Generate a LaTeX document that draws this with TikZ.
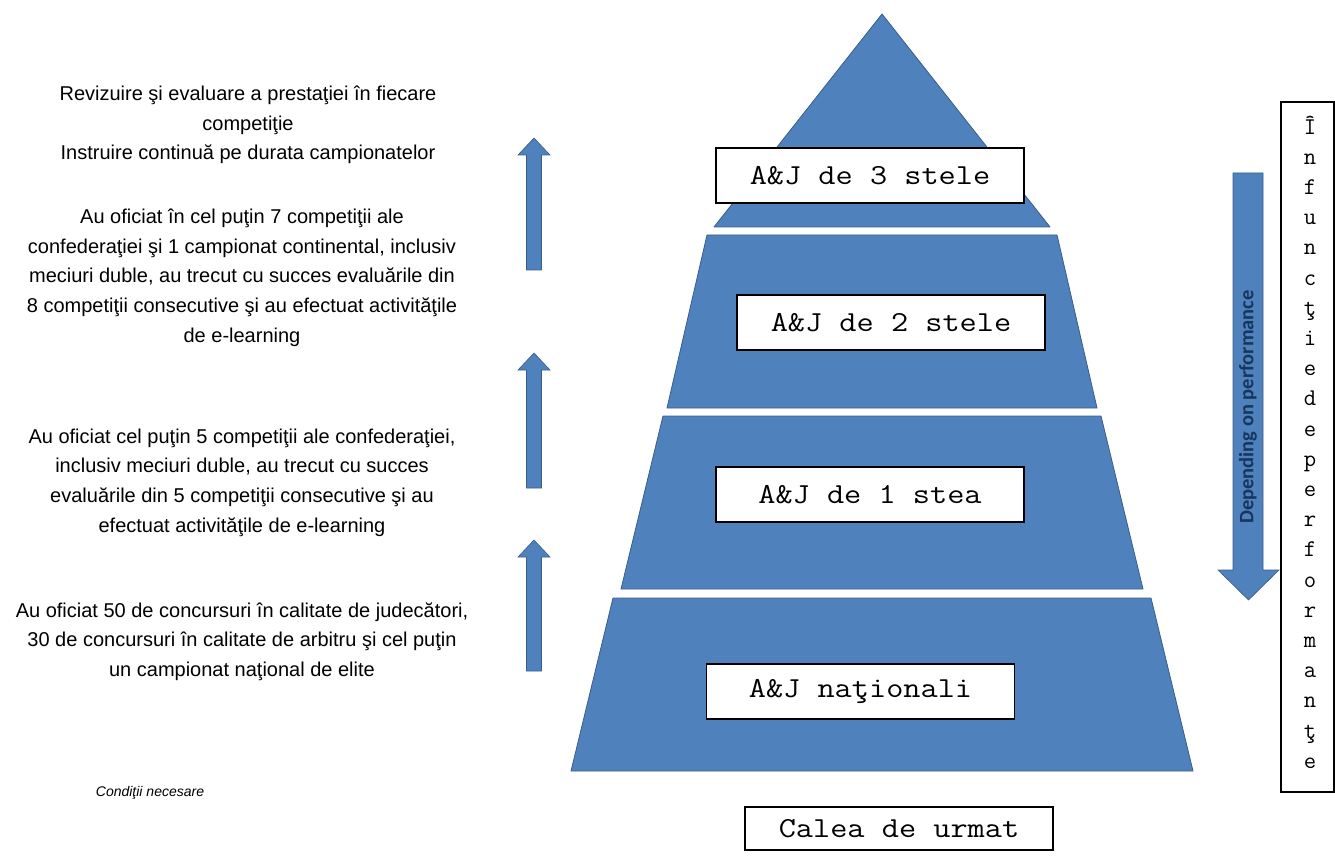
\documentclass[tikz,border=0pt]{standalone}
\usepackage{fontspec}
\setmainfont{Liberation Sans}
\newfontfamily\calibrifont{Carlito}
\definecolor{pyrblue}{RGB}{79,129,189}
\definecolor{pyredge}{RGB}{56,93,138}
\definecolor{depnavy}{RGB}{23,54,93}
\newcommand\widemono[1]{\scalebox{1.15}[1]{#1}}
\begin{document}
\begin{tikzpicture}[x=1pt,y=-1pt,
  tier/.style={fill=pyrblue, draw=pyredge, line width=0.8pt, line join=round},
  blockarrow/.style={fill=pyrblue, draw=pyredge, line width=0.6pt, line join=miter},
  lvlbox/.style={draw=black, line width=1.6pt, fill=white, minimum width=308pt,
    minimum height=55pt, inner sep=0pt, font=\fontsize{29}{29}\selectfont\ttfamily},
  cond/.style={align=center, font=\fontsize{20}{29.7}\selectfont, inner sep=0pt},
  frame/.style={draw=black, line width=1.2pt, inner sep=0pt}]
\useasboundingbox (0,0) rectangle (1335,858);

% pyramid tiers
\path[tier] (882,14) -- (1050,227) -- (714,227) -- cycle;
\path[tier] (707,235) -- (1057,235) -- (1097,408) -- (667,408) -- cycle;
\path[tier] (663,416) -- (1101,416) -- (1143,589) -- (621,589) -- cycle;
\path[tier] (613,598) -- (1151,598) -- (1193,771) -- (571,771) -- cycle;

% level labels
\node[lvlbox] (lvl3) at (870,175.5) {\widemono{A\&J de 3 stele}};
\node[lvlbox] (lvl2) at (891,322.5) {\widemono{A\&J de 2 stele}};
\node[lvlbox] (lvl1) at (870,494.5) {\widemono{A\&J de 1 stea}};
\node[lvlbox] (lvl0) at (860.5,691.5) {\widemono{A\&J naţionali}};
\node[lvlbox, minimum height=43pt, line width=1.2pt] (route) at (899,828.5) {\widemono{Calea de urmat}};

% left up arrows
\foreach \t/\b [count=\i] in {138/270, 353/488, 540/671}{
  \path[blockarrow] (534,\t) -- (550,\t+17) -- (541.5,\t+17) -- (541.5,\b)
     -- (526.5,\b) -- (526.5,\t+17) -- (518,\t+17) -- cycle;
}

% conditions
\node[cond] (cond3) at (248,125) {Revizuire şi evaluare a prestaţiei în fiecare\\competiţie\\Instruire continuă pe durata campionatelor};
\node[cond] (cond2) at (242,277.5) {Au oficiat în cel puţin 7 competiţii ale\\confederaţiei şi 1 campionat continental, inclusiv\\meciuri duble, au trecut cu succes evaluările din\\8 competiţii consecutive şi au efectuat activităţile\\de e-learning};
\node[cond] (cond1) at (242,482.5) {Au oficiat cel puţin 5 competiţii ale confederaţiei,\\inclusiv meciuri duble, au trecut cu succes\\evaluările din 5 competiţii consecutive şi au\\efectuat activităţile de e-learning};
\node[cond] (cond0) at (242,641.5) {Au oficiat 50 de concursuri în calitate de judecători,\\30 de concursuri în calitate de arbitru şi cel puţin\\un campionat naţional de elite};
\node[font=\fontsize{14}{14}\selectfont\itshape, inner sep=0pt] (condtitle) at (150,793) {Condiţii necesare};

% right down arrow
\path[blockarrow] (1233,173) -- (1263,173) -- (1263,570) -- (1279,570) -- (1248.5,600)
   -- (1218,570) -- (1233,570) -- cycle;
\node[rotate=90, text=depnavy, inner sep=0pt,
  font=\calibrifont\bfseries\fontsize{20.5}{20.5}\selectfont] (dep) at (1248,407) {Depending on performance};

% right vertical label
\node[frame, minimum width=53pt, minimum height=690pt] (perfbox) at (1307.5,447) {};
\node[align=center, inner sep=0pt, font=\fontsize{24}{30.2}\selectfont\ttfamily] (perftext) at (1310,442)
  {Î\\n\\f\\u\\n\\c\\ţ\\i\\e\\d\\e\\p\\e\\r\\f\\o\\r\\m\\a\\n\\ţ\\e};
\end{tikzpicture}
\end{document}
